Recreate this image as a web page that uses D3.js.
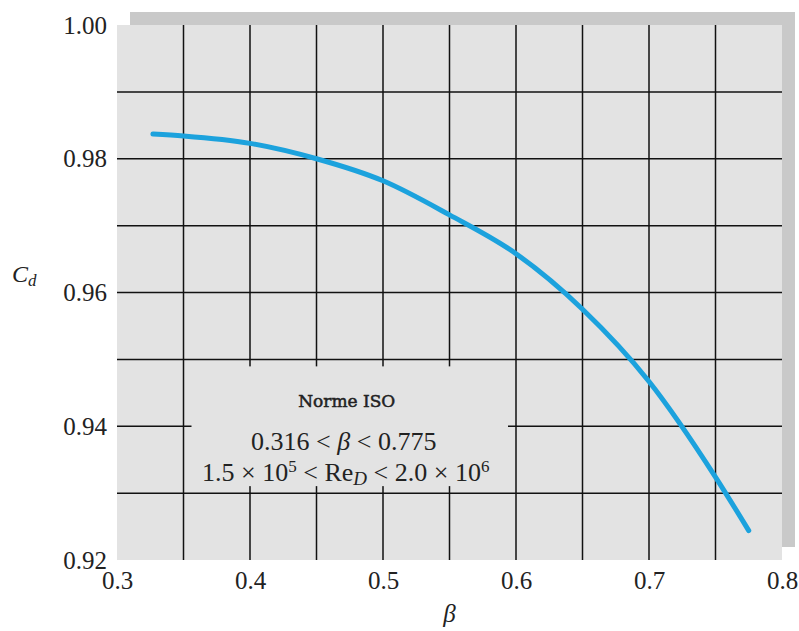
<!DOCTYPE html>
<html>
<head>
<meta charset="utf-8">
<script src="https://cdn.jsdelivr.net/npm/d3@7"></script>
<style>
  body { margin: 0; background: #fff; }
  svg { display: block; }
</style>
</head>
<body>
<svg id="chart" width="799" height="631"></svg>
<script>
// Cd vs beta (ISO nozzle)
var betaValues = [0.327, 0.35, 0.40, 0.45, 0.50, 0.55, 0.60, 0.65, 0.70, 0.75, 0.775];
var cdValues   = [0.9837, 0.9834, 0.9823, 0.9800, 0.9767, 0.9716, 0.9658, 0.9575, 0.9467, 0.9324, 0.9244];

var xTicks = [0.3, 0.4, 0.5, 0.6, 0.7, 0.8];
var yTicks = [0.92, 0.94, 0.96, 0.98, 1.00];
var xGrid = [0.35, 0.40, 0.45, 0.50, 0.55, 0.60, 0.65, 0.70, 0.75];
var yGrid = [0.93, 0.94, 0.95, 0.96, 0.97, 0.98, 0.99];

var svg = d3.select("#chart"),
    margin = {top: 25, right: 17, bottom: 71, left: 117},
    width = +svg.attr("width") - margin.left - margin.right,
    height = +svg.attr("height") - margin.top - margin.bottom,
    g = svg.append("g").attr("transform", "translate(" + margin.left + "," + margin.top + ")");

var serif = "'Liberation Serif', 'Times New Roman', serif";

var x = d3.scaleLinear().domain([0.3, 0.8]).range([0, width]);
var y = d3.scaleLinear().domain([0.92, 1.00]).range([height, 0]);

// shadow behind the plot
g.append("rect")
    .attr("x", 13).attr("y", -13)
    .attr("width", width).attr("height", height)
    .attr("fill", "#c9c9c9");

g.append("rect")
    .attr("width", width).attr("height", height)
    .attr("fill", "#e3e3e3");

// grid
g.append("g").selectAll("line")
  .data(xGrid)
  .enter().append("line")
    .attr("x1", function(d) { return x(d); })
    .attr("x2", function(d) { return x(d); })
    .attr("y1", 0).attr("y2", height)
    .attr("stroke", "#111").attr("stroke-width", 1.5);

g.append("g").selectAll("line")
  .data(yGrid)
  .enter().append("line")
    .attr("y1", function(d) { return y(d); })
    .attr("y2", function(d) { return y(d); })
    .attr("x1", 0).attr("x2", width)
    .attr("stroke", "#111").attr("stroke-width", 1.5);

// annotation box hides the grid behind it
var boxX0 = x(0.35) + 8, boxX1 = x(0.60) - 8,
    boxY0 = y(0.95) + 7, boxY1 = y(0.93) - 7,
    boxCx = (boxX0 + boxX1) / 2;

g.append("rect")
    .attr("x", boxX0).attr("y", boxY0)
    .attr("width", boxX1 - boxX0).attr("height", boxY1 - boxY0)
    .attr("fill", "#e3e3e3");

var note = g.append("g")
    .attr("font-family", serif)
    .attr("fill", "#222")
    .attr("text-anchor", "middle");

note.append("text")
    .attr("x", boxCx - 3).attr("y", boxY0 + 41)
    .attr("font-family", "'DejaVu Serif', serif")
    .attr("font-size", 17)
    .attr("stroke", "#222")
    .attr("stroke-width", 0.5)
    .text("Norme ISO");

var l2 = note.append("text")
    .attr("x", boxCx - 6).attr("y", boxY0 + 84)
    .attr("font-size", 26);
l2.append("tspan").text("0.316 < ");
l2.append("tspan").attr("font-style", "italic").text("β");
l2.append("tspan").text(" < 0.775");

var l3 = note.append("text")
    .attr("x", boxCx - 4).attr("y", boxY0 + 115)
    .attr("font-size", 26);
l3.append("tspan").text("1.5 × 10");
l3.append("tspan").attr("font-size", 17).attr("dy", -9).text("5");
l3.append("tspan").attr("dy", 9).text(" < Re");
l3.append("tspan").attr("font-size", 19).attr("font-style", "italic").attr("dy", 4).text("D");
l3.append("tspan").attr("dy", -4).text(" < 2.0 × 10");
l3.append("tspan").attr("font-size", 17).attr("dy", -9).text("6");

// curve
var data = betaValues.map(function(b, i) { return {beta: b, cd: cdValues[i]}; });

var line = d3.line()
    .curve(d3.curveMonotoneX)
    .x(function(d) { return x(d.beta); })
    .y(function(d) { return y(d.cd); });

g.append("path")
    .datum(data)
    .attr("d", line)
    .attr("fill", "none")
    .attr("stroke", "#1ca2dd")
    .attr("stroke-width", 5)
    .attr("stroke-linecap", "round");

// axes (labels only)
var xAxis = g.append("g")
    .attr("transform", "translate(0," + height + ")")
    .call(d3.axisBottom(x).tickValues(xTicks).tickFormat(d3.format(".1f")).tickSize(0).tickPadding(11));

var yAxis = g.append("g")
    .call(d3.axisLeft(y).tickValues(yTicks).tickFormat(d3.format(".2f")).tickSize(0).tickPadding(10));

[xAxis, yAxis].forEach(function(a) {
  a.select(".domain").remove();
  a.selectAll("text")
      .attr("font-family", serif)
      .attr("font-size", 25)
      .attr("fill", "#222");
});

// axis titles
svg.append("text")
    .attr("x", margin.left + width / 2)
    .attr("y", 622)
    .attr("text-anchor", "middle")
    .attr("font-family", serif)
    .attr("font-style", "italic")
    .attr("font-size", 25)
    .attr("fill", "#222")
    .text("β");

var cd = svg.append("text")
    .attr("x", 12)
    .attr("y", 282)
    .attr("font-family", serif)
    .attr("font-style", "italic")
    .attr("font-size", 24)
    .attr("fill", "#222");
cd.append("tspan").text("C");
cd.append("tspan").attr("font-size", 17).attr("dy", 4).text("d");
</script>
</body>
</html>
